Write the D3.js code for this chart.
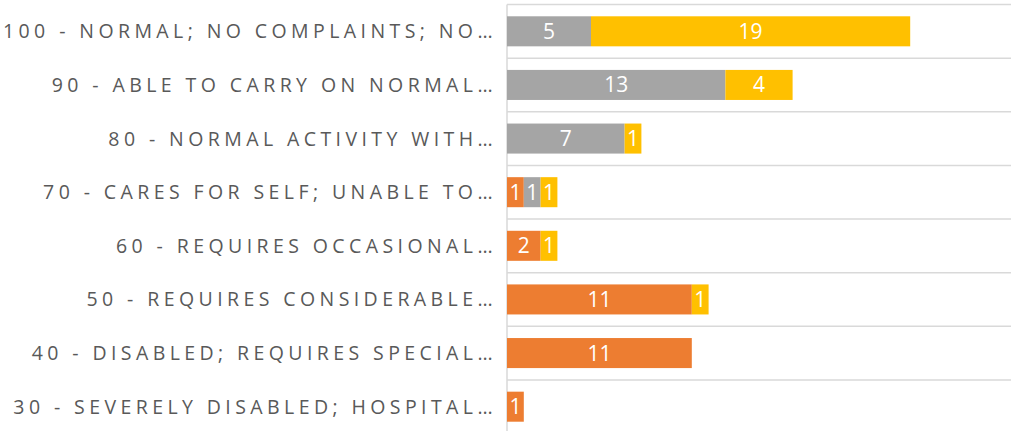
<!DOCTYPE html>
<html>
<head>
<meta charset="utf-8">
<script src="https://cdn.jsdelivr.net/npm/d3@7"></script>
<style>
  body { margin: 0; background: #fff; }
  svg { display: block; }
</style>
</head>
<body>
<div id="chart"></div>
<script>
// data
var categories = [
  "100 - NORMAL; NO COMPLAINTS; NO…",
  "90 - ABLE TO CARRY ON NORMAL…",
  "80 - NORMAL ACTIVITY WITH…",
  "70 - CARES FOR SELF; UNABLE TO…",
  "60 - REQUIRES OCCASIONAL…",
  "50 - REQUIRES CONSIDERABLE…",
  "40 - DISABLED; REQUIRES SPECIAL…",
  "30 - SEVERELY DISABLED; HOSPITAL…"
]
var seriesNames = ["orange", "gray", "yellow"]
var orangeValues = [0, 0, 0, 1, 2, 11, 11, 1]
var grayValues = [5, 13, 7, 1, 0, 0, 0, 0]
var yellowValues = [19, 4, 1, 1, 1, 1, 0, 0]
var seriesColors = ["#ED7D31", "#A5A5A5", "#FFC000"]

var W = 1021, H = 431
var left = 507, right = 1011

var rows = categories.map(function (c, i) {
  return { cat: c, orange: orangeValues[i], gray: grayValues[i], yellow: yellowValues[i] }
})

var svg = d3.select('#chart')
  .append('svg')
  .attr("width", W)
  .attr("height", H)

var x = d3.scaleLinear()
  .domain([0, 30])
  .range([left, right])

var y = d3.scaleBand()
  .domain(categories)
  .range([4.5, 433.5])
  .paddingInner(0.44)
  .paddingOuter(0.22)

var color = d3.scaleOrdinal()
  .domain(seriesNames)
  .range(seriesColors)

// horizontal gridlines between categories
var step = y.step()
var y0 = y.range()[0]
svg.append("g")
  .selectAll("line")
  .data(d3.range(categories.length + 1))
  .enter()
  .append("line")
  .attr("x1", left)
  .attr("x2", right)
  .attr("y1", function (d) { return y0 + d * step })
  .attr("y2", function (d) { return y0 + d * step })
  .attr("stroke", "#D9D9D9")
  .attr("stroke-width", 1.5)

// vertical axis line
svg.append("line")
  .attr("x1", left)
  .attr("x2", left)
  .attr("y1", y0)
  .attr("y2", H)
  .attr("stroke", "#D9D9D9")
  .attr("stroke-width", 1.5)

var stacked = d3.stack().keys(seriesNames)(rows)

var layers = svg.append("g")
  .selectAll("g")
  .data(stacked)
  .enter()
  .append("g")
  .attr("fill", function (d) { return color(d.key) })

layers.selectAll("rect")
  .data(function (d) { return d.filter(function (p) { return p[1] > p[0] }) })
  .enter()
  .append("rect")
  .attr("x", function (d) { return x(d[0]) })
  .attr("y", function (d) { return y(d.data.cat) })
  .attr("width", function (d) { return x(d[1]) - x(d[0]) })
  .attr("height", y.bandwidth())

// value labels inside segments
layers.selectAll("text")
  .data(function (d) { return d.filter(function (p) { return p[1] > p[0] }) })
  .enter()
  .append("text")
  .attr("x", function (d) { return (x(d[0]) + x(d[1])) / 2 })
  .attr("y", function (d) { return y(d.data.cat) + y.bandwidth() / 2 })
  .attr("dy", "0.36em")
  .attr("text-anchor", "middle")
  .attr("fill", "#fff")
  .style("font-family", "'Open Sans', sans-serif")
  .style("font-size", "21px")
  .text(function (d) { return d[1] - d[0] })

// category labels
var labels = svg.append("g")
  .selectAll("text")
  .data(categories)
  .enter()
  .append("text")
  .attr("x", 497)
  .attr("y", function (d) { return y(d) + y.bandwidth() / 2 })
  .attr("dy", "0.36em")
  .attr("text-anchor", "end")
  .attr("fill", "#595959")
  .style("font-family", "'Open Sans', sans-serif")
  .style("font-size", "19.5px")
  .text(function (d) { return d })

// spread letters so the first label spans the same width as in the picture
var first = labels.node()
var natural = first.getComputedTextLength()
var spacing = (494 - natural) / categories[0].length
labels.style("letter-spacing", spacing + "px")
</script>
</body>
</html>
